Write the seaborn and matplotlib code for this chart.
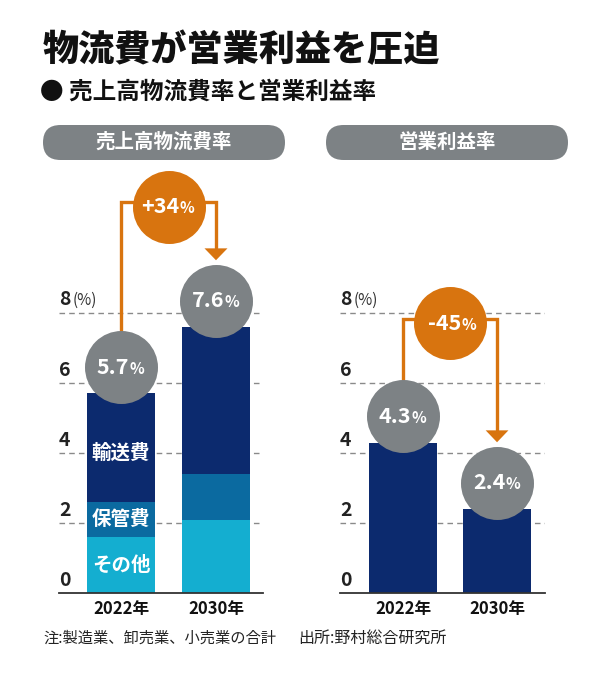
import matplotlib
matplotlib.use("Agg")
import matplotlib.pyplot as plt
import seaborn as sns
import pandas as pd
from matplotlib.patches import FancyBboxPatch

# Data
years = ["2022年", "2030年"]
other_cost = [1.6, 2.1]        # その他
storage_cost = [1.0, 1.3]      # 保管費
transport_cost = [3.1, 4.2]    # 輸送費
logistics_total = [5.7, 7.6]
logistics_change = "+34"
profit_rate = [4.3, 2.4]
profit_change = "-45"
yticks = [0, 2, 4, 6, 8]

NAVY = "#0c2a6e"
MID = "#0b6aa0"
CYAN = "#14aed0"
GRAY = "#7d8285"
ORANGE = "#d8740f"

sns.set_style("white")
plt.rcParams["font.family"] = ["Noto Sans CJK JP", "DejaVu Sans"]

fig = plt.figure(figsize=(6, 6.83), dpi=100)
PX = 35.0  # pixels per unit on the value axis
ax_h = 428 / 683
ymax = 428 / PX
ax1 = fig.add_axes([59 / 600, 90 / 683, 204 / 600, ax_h])
ax2 = fig.add_axes([340 / 600, 90 / 683, 205 / 600, ax_h])

df = pd.DataFrame({
    "year": years,
    "other": other_cost,
    "storage": [o + s for o, s in zip(other_cost, storage_cost)],
    "total": [o + s + t for o, s, t in zip(other_cost, storage_cost, transport_cost)],
    "profit": profit_rate,
})

bw = 0.716
bar_kw = dict(width=bw, saturation=1, linewidth=0, edgecolor="none", zorder=2)
sns.barplot(data=df, x="year", y="total", color=NAVY, ax=ax1, **bar_kw)
sns.barplot(data=df, x="year", y="storage", color=MID, ax=ax1, **bar_kw)
sns.barplot(data=df, x="year", y="other", color=CYAN, ax=ax1, **bar_kw)
sns.barplot(data=df, x="year", y="profit", color=NAVY, ax=ax2, **bar_kw)

ax1.set_xlim(-0.653, 1.495)
ax2.set_xlim(-0.67, 1.51)

# segment labels in the 2022 bar
seg_lab = dict(color="white", fontsize=14, fontweight="bold", ha="center", va="center", zorder=5)
ax1.text(0, other_cost[0] / 2, "その他", **seg_lab)
ax1.text(0, other_cost[0] + storage_cost[0] / 2, "保管費", **seg_lab)
ax1.text(0, df["storage"][0] + transport_cost[0] / 2 - 0.15, "輸送費", **seg_lab)

rad = 37 / PX
circ_s = (73 * 72 / 100) ** 2


def value_circle(ax, x, y, txt, color, split):
    ax.scatter([x], [y], s=circ_s, color=color, zorder=6, linewidths=0, clip_on=False)
    ax.annotate(txt, (x, y), xytext=(split, 0), textcoords="offset points",
                ha="right", va="center", color="white", fontsize=15.5, fontweight="bold", zorder=7)
    ax.annotate("%", (x, y), xytext=(split, -1), textcoords="offset points",
                ha="left", va="center", color="white", fontsize=11, fontweight="bold", zorder=7)


def connector(ax, y0, y_top, y_end, change):
    ax.plot([0, 0, 1, 1], [y0, y_top, y_top, y_end + 0.34], color=ORANGE, lw=2.4,
            solid_joinstyle="miter", zorder=4, clip_on=False)
    hw = 11.5 / 95
    ax.fill([1 - hw, 1 + hw, 1], [y_end + 0.34, y_end + 0.34, y_end], color=ORANGE, zorder=4, lw=0)
    value_circle(ax, 0.5, y_top - 0.13, change, ORANGE, 8)


for ax, vals, change, top in [(ax1, logistics_total, logistics_change, 11.17),
                              (ax2, profit_rate, profit_change, 7.83)]:
    ax.set_ylim(0, ymax)
    for v in yticks[1:]:
        ax.axhline(v, color="#8a8a8a", lw=1, ls=(0, (4, 3)), zorder=1)
    for v in yticks:
        ax.text(0.0, v + 0.1, str(v), transform=ax.get_yaxis_transform(), ha="left", va="bottom",
                fontsize=14, fontweight="bold", color="#222222")
    ax.text(0.068, yticks[-1] + 0.12, "(%)", transform=ax.get_yaxis_transform(), ha="left", va="bottom",
            fontsize=11, color="#333333")
    centers = [v + 0.75 for v in vals]
    for i, (v, c) in enumerate(zip(vals, centers)):
        value_circle(ax, i, c, f"{v:.1f}", GRAY, 6)
    connector(ax, centers[0], top, centers[1] + rad + 0.1, change)

    sns.despine(ax=ax, left=True, right=True, top=True)
    ax.spines["bottom"].set_color("#333333")
    ax.spines["bottom"].set_linewidth(1.3)
    ax.set_yticks([])
    ax.set_xlabel("")
    ax.set_ylabel("")
    ax.tick_params(axis="x", length=0, pad=5)
    ax.set_xticks([0, 1])
    ax.set_xticklabels(years, fontsize=12, fontweight="bold", color="#111111")
    ax.set_facecolor("none")

# header pills
for x0, label in [(0.43, "売上高物流費率"), (3.26, "営業利益率")]:
    pill = FancyBboxPatch((x0, 5.23), 2.42, 0.35, boxstyle="round,pad=0,rounding_size=0.175",
                          transform=fig.dpi_scale_trans, facecolor=GRAY, edgecolor="none")
    fig.patches.append(pill)
    fig.text((x0 + 1.21) / 6, (683 - 142) / 683, label, ha="center", va="center",
             color="white", fontsize=14, fontweight="bold")

fig.text(43 / 600, 1 - 50 / 683, "物流費が営業利益を圧迫", fontsize=26, fontweight="black",
         ha="left", va="center", color="#111111")
fig.text(40 / 600, 1 - 92 / 683, "● 売上高物流費率と営業利益率", fontsize=17, fontweight="bold",
         ha="left", va="center", color="#111111")
fig.text(43 / 600, 1 - 638 / 683, "注:製造業、卸売業、小売業の合計", fontsize=11,
         ha="left", va="center", color="#222222")
fig.text(298 / 600, 1 - 638 / 683, "出所:野村総合研究所", fontsize=11.5,
         ha="left", va="center", color="#222222")

fig.savefig("out.png", dpi=100)
